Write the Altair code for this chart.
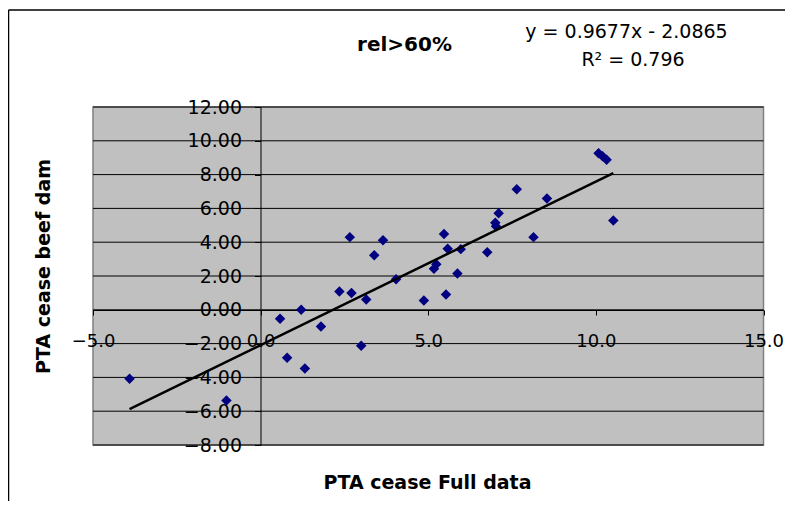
import altair as alt
import pandas as pd

# ---- data ----
x_vals = [-3.91, -1.02, 0.58, 0.79, 1.21, 1.32, 1.80, 2.35, 2.66, 2.71, 3.00, 3.15, 3.39, 3.65, 4.04,
          4.87, 5.17, 5.24, 5.47, 5.53, 5.58, 5.87, 5.97, 6.76, 7.00, 7.02, 7.10, 7.64, 8.14, 8.54,
          10.08, 10.20, 10.32, 10.52]
y_vals = [-4.08, -5.37, -0.53, -2.84, 0.00, -3.47, -0.99, 1.08, 4.30, 0.99, -2.13, 0.61, 3.23, 4.12, 1.81,
          0.55, 2.43, 2.70, 4.48, 0.91, 3.61, 2.15, 3.59, 3.41, 5.15, 4.95, 5.72, 7.14, 4.30, 6.59,
          9.27, 9.08, 8.88, 5.28]
SLOPE = 0.9677
INTERCEPT = -2.0865
R2 = 0.796
x_ticks = [-5, 0, 5, 10, 15]
y_ticks = [-8, -6, -4, -2, 0, 2, 4, 6, 8, 10, 12]

TITLE = "rel>60%"
EQ_TEXT = f"y = {SLOPE}x - {abs(INTERCEPT)}"
R2_TEXT = f"R\u00b2 = {R2}"
X_TITLE = "PTA cease Full data"
Y_TITLE = "PTA cease beef dam"

pts = pd.DataFrame({"x": x_vals, "y": y_vals})
xmin, xmax = min(x_vals), max(x_vals)
trend = pd.DataFrame({"x": [xmin, xmax], "y": [SLOPE * xmin + INTERCEPT, SLOPE * xmax + INTERCEPT]})
grid_df = pd.DataFrame({"y": y_ticks})

FONT = "DejaVu Sans"
W, H = 670.5, 338
PAD_L, PAD_T = 85, 99

xscale = alt.Scale(domain=[-5, 15], nice=False, zero=False)
yscale = alt.Scale(domain=[-8, 12], nice=False, zero=False)

x_axis = alt.Axis(
    values=x_ticks, format=".1f", grid=False, offset=-135, labelFlush=False,
    tickSize=5, labelPadding=17, labelFontSize=18, labelFont=FONT, labelColor="#000",
    domainColor="#000", tickColor="#000", labelOverlap=False,
    title=X_TITLE, titleFont=FONT, titleFontSize=19, titleFontWeight="bold", titleColor="#000",
    titleX=334, titleY=178, titleBaseline="alphabetic", titleAlign="center")
y_axis = alt.Axis(
    values=y_ticks, format=".2f", grid=False, offset=-167.5, labelFlush=False,
    tickSize=6, labelPadding=13, labelFontSize=19, labelFont=FONT, labelColor="#000",
    domainColor="#000", tickColor="#000", labelOverlap=False,
    title=Y_TITLE, titleFont=FONT, titleFontSize=19, titleFontWeight="bold", titleColor="#000",
    titleAngle=270, titleX=-217, titleY=159, titleBaseline="middle", titleAlign="center")

grid = alt.Chart(grid_df).mark_rule(color="#000000", strokeWidth=1).encode(
    y=alt.Y("y:Q", scale=yscale, axis=y_axis)
)

points = alt.Chart(pts).mark_point(
    shape="diamond", filled=True, color="#000080", size=110, opacity=1
).encode(
    x=alt.X("x:Q", scale=xscale, axis=x_axis),
    y=alt.Y("y:Q", scale=yscale, axis=y_axis),
)

line = alt.Chart(trend).mark_line(color="#000000", strokeWidth=2.5).encode(
    x=alt.X("x:Q", scale=xscale, axis=x_axis),
    y=alt.Y("y:Q", scale=yscale, axis=y_axis),
)

one = alt.Data(values=[{}])
title_txt = alt.Chart(one).mark_text(font=FONT, fontSize=20, fontWeight="bold", color="#000",
                                     align="center", baseline="alphabetic").encode(
    x=alt.value(311.5), y=alt.value(-56), text=alt.value(TITLE))
eq_txt = alt.Chart(one).mark_text(font=FONT, fontSize=19, color="#000",
                                  align="center", baseline="alphabetic").encode(
    x=alt.value(533.5), y=alt.value(-69), text=alt.value(EQ_TEXT))
r2_txt = alt.Chart(one).mark_text(font=FONT, fontSize=19, color="#000",
                                  align="center", baseline="alphabetic").encode(
    x=alt.value(540), y=alt.value(-41), text=alt.value(R2_TEXT))

border_top = alt.Chart(one).mark_rule(color="#000", strokeWidth=1.5).encode(
    x=alt.value(-84.5), x2=alt.value(W + 30), y=alt.value(-97))
border_left = alt.Chart(one).mark_rule(color="#000", strokeWidth=1.5).encode(
    x=alt.value(-84.5), y=alt.value(-97), y2=alt.value(H + 70))

chart = alt.layer(
    grid, points, line, title_txt, eq_txt, r2_txt, border_top, border_left
).properties(
    width=W, height=H,
    padding={"left": PAD_L, "top": PAD_T, "right": 21, "bottom": 56},
    autosize=alt.AutoSizeParams(type="none"),
).configure(
    background="#ffffff"
).configure_view(
    fill="#C0C0C0", stroke="#808080", strokeWidth=1.5
)

chart.save("out.html", embed_options={"renderer": "svg", "actions": False})
